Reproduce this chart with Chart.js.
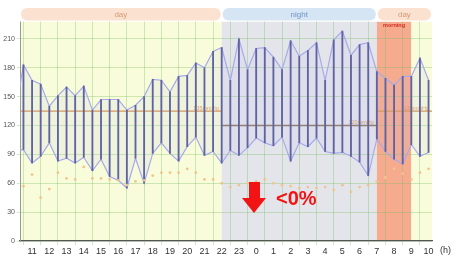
<!DOCTYPE html>
<html>
<head>
<meta charset="utf-8">
<script src="https://cdn.jsdelivr.net/npm/chart.js@4.4.1/dist/chart.umd.min.js"></script>
<style>
  body { margin: 0; background: #fff; }
  #wrap { position: relative; width: 455px; height: 263px; }
  #arrow-shaft { position: absolute; left: 249px; top: 182px; width: 11px; height: 17px; background: #f21414; }
  #arrow-head { position: absolute; left: 242px; top: 198px; width: 0; height: 0;
    border-left: 12.5px solid transparent; border-right: 12.5px solid transparent; border-top: 15px solid #f21414; }
  #pct { position: absolute; left: 276px; top: 187px; font: bold 20px "Liberation Sans", Arial, sans-serif; color: #f21414; }
</style>
</head>
<body>
<div id="wrap">
  <canvas id="bpChart" width="455" height="263"></canvas>
  <div id="arrow-shaft"></div>
  <div id="arrow-head"></div>
  <div id="pct">&lt;0%</div>
</div>
<script>
// measurement times in hours (24 = midnight, 34 = 10:00 next day)
var times = [10, 10.5, 11, 11.5, 12, 12.5, 13, 13.5, 14, 14.5, 15, 15.5, 16, 16.5, 17, 17.5,
  18, 18.5, 19, 19.5, 20, 20.5, 21, 21.5, 22, 22.5, 23, 23.5, 24, 24.5, 25, 25.5,
  26, 26.5, 27, 27.5, 28, 28.5, 29, 29.5, 30, 30.5, 31, 31.5, 32, 32.5, 33, 33.5, 34];
var systolic = [130, 183, 167, 163, 140, 151, 160, 151, 161, 136, 147, 147, 147, 136, 141, 150,
  168, 167, 155, 171, 172, 185, 180, 197, 201, 167, 210, 178, 200, 201, 191, 178,
  208, 192, 198, 206, 167, 209, 218, 193, 204, 206, 176, 169, 162, 171, 171, 190, 167];
var diastolic = [93, 95, 81, 88, 102, 83, 86, 81, 87, 73, 85, 67, 63, 55, 86, 60,
  91, 102, 91, 83, 98, 108, 89, 93, 81, 94, 89, 97, 107, 102, 99, 108,
  83, 102, 98, 107, 93, 91, 92, 88, 82, 68, 106, 93, 85, 80, 100, 88, 92];
var pulse = [null, 57, 69, 45, 54, 71, 65, 64, 77, 65, 65, 64, 63, 58, 62, 63,
  68, 71, 71, 71, 75, 71, 64, 64, 60, 56, 58, 60, 62, 64, 60, 58,
  57, 55, 56, 55, 56, 53, 58, 51, 56, 58, 62, 66, 75, 70, 64, 71, 75];

var hourTicks = [11, 12, 13, 14, 15, 16, 17, 18, 19, 20, 21, 22, 23, 24, 25, 26, 27, 28, 29, 30, 31, 32, 33, 34];
var mmTicks = [0, 30, 60, 90, 120, 150, 180, 210];

// periods of the day
var periodNames = ['day', 'night', 'morning', 'day'];
var periodStart = [10.3, 22, 31, 33];
var periodEnd = [22, 31, 33, 34.2];
var bandNames = ['day', 'night', 'day'];
var bandStart = [10.3, 22, 31];
var bandEnd = [22, 31, 34.2];

// threshold lines
var limitStart = [10.3, 22, 31];
var limitEnd = [22, 31, 34.2];
var limitValue = [135, 120, 135];

var periodColors = { day: '#f9fcda', night: '#e4e5ea', morning: '#f7ab8e' };
var bandColors = { day: '#fbe1d0', night: '#d6e5f4' };
var bandText = { day: '#d39a74', night: '#7393c4' };
var limitColors = ['#d9944a', '#8c7a5c', '#d9944a'];

function pts(ys) {
  return times.map(function (t, i) { return { x: t, y: ys[i] }; });
}

var limitSets = limitValue.map(function (v, i) {
  return {
    type: 'line',
    data: [{ x: limitStart[i], y: v }, { x: limitEnd[i], y: v }],
    borderColor: limitColors[i],
    borderWidth: 1.3,
    pointRadius: 0,
    order: 5
  };
});

function roundRect(c, x, y, w, h, r) {
  c.beginPath();
  c.moveTo(x + r, y);
  c.lineTo(x + w - r, y);
  c.arcTo(x + w, y, x + w, y + r, r);
  c.arcTo(x + w, y + h, x + w - r, y + h, r);
  c.lineTo(x + r, y + h);
  c.arcTo(x, y + h, x, y + h - r, r);
  c.arcTo(x, y, x + r, y, r);
  c.closePath();
}

var decor = {
  id: 'decor',
  beforeDraw: function (chart) {
    var c = chart.ctx, a = chart.chartArea, xs = chart.scales.x, ys = chart.scales.y;
    c.save();
    periodNames.forEach(function (p, i) {
      var x1 = xs.getPixelForValue(periodStart[i]), x2 = xs.getPixelForValue(periodEnd[i]);
      c.fillStyle = periodColors[p];
      c.fillRect(x1, ys.getPixelForValue(228), x2 - x1, a.bottom - ys.getPixelForValue(228));
    });
    c.restore();
  },
  beforeDatasetsDraw: function (chart) {
    var c = chart.ctx, a = chart.chartArea, xs = chart.scales.x, ys = chart.scales.y;
    var top = ys.getPixelForValue(240), bot = ys.getPixelForValue(228);
    c.save();
    c.fillStyle = '#fff';
    c.fillRect(a.left, top - 2, a.right - a.left, bot - top + 2);
    bandNames.forEach(function (b, i) {
      var x1 = xs.getPixelForValue(bandStart[i]) + 1, x2 = xs.getPixelForValue(bandEnd[i]) - 1;
      c.fillStyle = bandColors[b];
      roundRect(c, x1, top - 2, x2 - x1, bot - top + 1, 6);
      c.fill();
      c.fillStyle = bandText[b];
      c.font = '8px "Liberation Sans", Arial, sans-serif';
      c.textAlign = 'center';
      c.textBaseline = 'middle';
      c.fillText(b, (x1 + x2) / 2, (top + bot) / 2 - 1);
    });
    // morning label
    var mx = (xs.getPixelForValue(periodStart[2]) + xs.getPixelForValue(periodEnd[2])) / 2;
    c.fillStyle = '#d02a20';
    c.font = 'bold 5.5px "Liberation Sans", Arial, sans-serif';
    c.textAlign = 'center';
    c.fillText('morning', mx, bot + 4);
    // threshold labels
    c.font = '5.5px "Liberation Sans", Arial, sans-serif';
    c.textAlign = 'right';
    limitValue.forEach(function (v, i) {
      c.fillStyle = 'rgba(214,150,80,0.85)';
      c.fillText(v + 'mmHg', xs.getPixelForValue(limitEnd[i]) - 3, ys.getPixelForValue(v) - 3);
    });
    c.restore();
  },
  afterDraw: function (chart) {
    var c = chart.ctx, a = chart.chartArea;
    c.save();
    c.fillStyle = '#333';
    c.font = '9px "Liberation Sans", Arial, sans-serif';
    c.textAlign = 'left';
    c.textBaseline = 'middle';
    c.fillText('(h)', a.right + 8, a.bottom + 10);
    c.restore();
  }
};

new Chart(document.getElementById('bpChart').getContext('2d'), {
  type: 'bar',
  data: {
    datasets: [
      {
        type: 'bar',
        data: times.map(function (t, i) { return { x: t, y: [diastolic[i], systolic[i]] }; }),
        backgroundColor: '#5f63a2',
        barThickness: 1.2,
        order: 2
      },
      {
        type: 'line',
        data: pts(systolic),
        borderColor: '#a6aaea',
        borderWidth: 1.2,
        pointRadius: 0,
        tension: 0,
        fill: { target: 2 },
        backgroundColor: 'rgba(180,180,240,0.12)',
        order: 3
      },
      {
        type: 'line',
        data: pts(diastolic),
        borderColor: '#a6aaea',
        borderWidth: 1.2,
        pointRadius: 0,
        tension: 0,
        order: 3
      },
      {
        type: 'scatter',
        data: pts(pulse),
        backgroundColor: '#f0c58c',
        borderWidth: 0,
        pointRadius: 1.4,
        order: 1
      }
    ].concat(limitSets)
  },
  options: {
    responsive: false,
    animation: false,
    layout: { padding: { top: 10, right: 23, left: 0, bottom: 0 } },
    plugins: { legend: { display: false }, tooltip: { enabled: false } },
    scales: {
      x: {
        type: 'linear',
        min: 10.3,
        max: 34.2,
        offset: false,
        afterBuildTicks: function (s) { s.ticks = hourTicks.map(function (v) { return { value: v }; }); },
        afterFit: function (s) { s.height = 22; },
        grid: { color: 'rgba(120,190,100,0.35)', lineWidth: 1, tickLength: 4 },
        border: { color: '#555', width: 1.2 },
        ticks: {
          padding: 1,
          color: '#333',
          font: { family: '"Liberation Sans", Arial, sans-serif', size: 9 },
          maxRotation: 0,
          autoSkip: false,
          callback: function (v) { return String(v % 24); }
        }
      },
      y: {
        min: 0,
        max: 240,
        afterBuildTicks: function (s) { s.ticks = mmTicks.map(function (v) { return { value: v }; }); },
        afterFit: function (s) { s.width = 20; },
        grid: { color: 'rgba(120,190,100,0.35)', lineWidth: 1, tickLength: 3 },
        border: { color: '#999', width: 1 },
        ticks: {
          padding: 2,
          color: '#555',
          font: { family: '"Liberation Sans", Arial, sans-serif', size: 7 }
        }
      }
    }
  },
  plugins: [decor]
});
</script>
</body>
</html>
